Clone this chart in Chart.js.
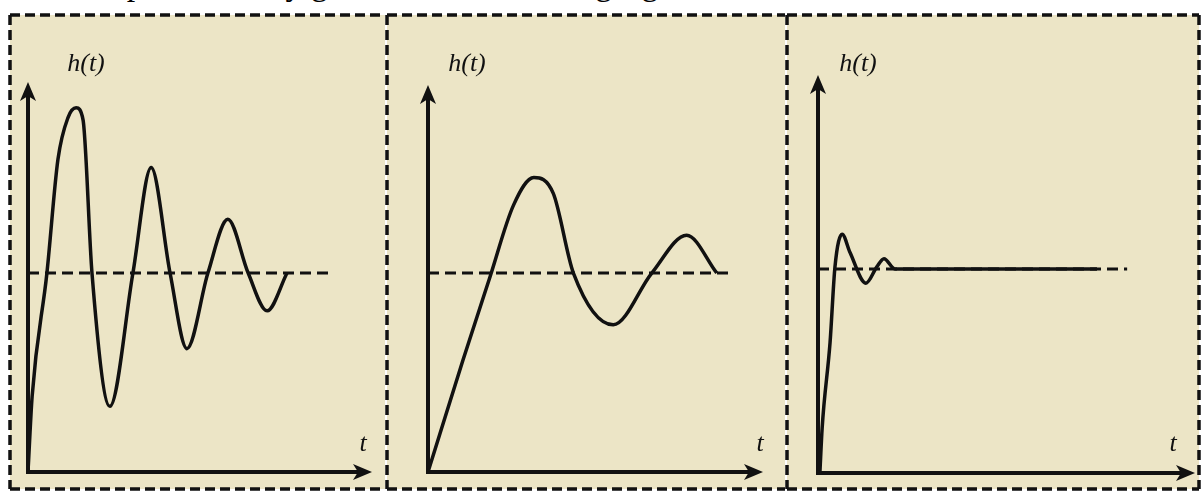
<!DOCTYPE html>
<html>
<head>
<meta charset="utf-8">
<script src="https://cdn.jsdelivr.net/npm/chart.js@4"></script>
<style>
  html, body { margin: 0; padding: 0; background: #fff; width: 1202px; height: 492px; overflow: hidden; position: relative; }
  .caption { position: absolute; left: 22px; top: -33px; font: 34px "Liberation Serif", serif; line-height: 34px; white-space: nowrap; color: #000; }
  canvas { position: absolute; top: 13px; }
</style>
</head>
<body>
<div class="caption">The output is clearly given in the following figures.</div>
<canvas id="panel1" width="377" height="478" style="left:8px"></canvas>
<canvas id="panel2" width="400" height="478" style="left:385px"></canvas>
<canvas id="panel3" width="417" height="478" style="left:785px"></canvas>
<script>
// panel 1: lightly damped, many oscillations
const t1 = [0, 0.12, 0.55, 0.87, 1.16, 1.40, 1.60, 1.86, 2.38, 3.05, 3.58, 4.13, 4.62, 5.23, 5.81, 6.40, 6.95, 7.53];
const h1 = [0, 0.38, 1.00, 1.57, 1.78, 1.83, 1.77, 1.00, 0.33, 1.00, 1.53, 1.00, 0.62, 1.00, 1.27, 1.00, 0.81, 1.00];
// panel 2: slow rise, moderate overshoot
const t2 = [0, 1.04, 1.85, 2.55, 3.16, 3.74, 4.34, 5.53, 6.68, 7.72, 8.62];
const h2 = [0, 0.56, 0.98, 1.34, 1.48, 1.40, 1.00, 0.74, 1.00, 1.19, 1.00];
// panel 3: fast rise, settles quickly
const t3 = [0.05, 0.11, 0.32, 0.45, 0.64, 0.85, 1.27, 1.56, 1.75, 2.04, 7.40];
const h3 = [0, 0.22, 0.64, 1.01, 1.17, 1.08, 0.93, 1.01, 1.05, 1.00, 1.00];

// steady-state level and where the dashed line ends in each panel
const steadyLevel = 1;
const refEnd = [8.87, 9.10, 8.20];
const tMax = [10, 10, 10];
const hMax = [1.96, 1.945, 1.95];
const yLabel = 'h(t)';
const xLabel = 't';

const INK = '#111';
const PAPER = 'rgb(236, 229, 198)';

function arrowHead(ctx, x, y, dir) {
    ctx.save();
    ctx.translate(x, y);
    if (dir === 'right') ctx.rotate(Math.PI / 2);
    ctx.beginPath();
    ctx.moveTo(0, 0);
    ctx.lineTo(8, 19);
    ctx.lineTo(0, 14);
    ctx.lineTo(-8, 19);
    ctx.closePath();
    ctx.fillStyle = INK;
    ctx.fill();
    ctx.restore();
}

const paperPlugin = {
    id: 'paper',
    beforeDraw(chart, args, opts) {
        const ctx = chart.ctx;
        const w = chart.width;
        ctx.save();
        ctx.fillStyle = PAPER;
        ctx.fillRect(2, 2, (opts.rightEdge || w) - 2, 474);
        ctx.restore();
    },
    afterDraw(chart, args, opts) {
        const ctx = chart.ctx;
        const { left, right, top, bottom } = chart.chartArea;
        ctx.save();
        // axes with arrows
        ctx.strokeStyle = INK;
        ctx.lineWidth = 4;
        ctx.beginPath();
        ctx.moveTo(left, bottom + 2);
        ctx.lineTo(left, top + 12);
        ctx.moveTo(left - 2, bottom);
        ctx.lineTo(right - 12, bottom);
        ctx.stroke();
        arrowHead(ctx, left, top, 'up');
        arrowHead(ctx, right, bottom, 'right');

        // axis labels
        ctx.fillStyle = INK;
        ctx.font = 'italic 26px "Liberation Serif", serif';
        ctx.textAlign = 'center';
        ctx.textBaseline = 'alphabetic';
        ctx.fillText(yLabel, opts.hX, 58);
        ctx.fillText(xLabel, opts.tX, 438);

        // dashed frame
        ctx.lineWidth = 3.5;
        ctx.setLineDash([10, 5]);
        const rEdge = opts.rightEdge || chart.width;
        ctx.beginPath();
        ctx.moveTo(2, 2);
        ctx.lineTo(rEdge, 2);
        ctx.moveTo(2, 476);
        ctx.lineTo(rEdge, 476);
        ctx.moveTo(2, 2);
        ctx.lineTo(2, 476);
        if (opts.rightEdge) {
            ctx.moveTo(opts.rightEdge, 2);
            ctx.lineTo(opts.rightEdge, 476);
        }
        ctx.stroke();
        ctx.restore();
    }
};

function makePanel(id, t, h, i, padding, paper) {
    const ctx = document.getElementById(id).getContext('2d');
    return new Chart(ctx, {
        type: 'line',
        data: {
            datasets: [
                {
                    label: 'steady state',
                    data: [{ x: 0, y: steadyLevel }, { x: refEnd[i], y: steadyLevel }],
                    borderColor: INK,
                    borderWidth: 3,
                    borderDash: [11, 6],
                    pointRadius: 0,
                    clip: false,
                },
                {
                    label: yLabel,
                    data: t.map((x, k) => ({ x: x, y: h[k] })),
                    borderColor: INK,
                    borderWidth: 3.5,
                    pointRadius: 0,
                    cubicInterpolationMode: 'monotone',
                    clip: false,
                },
            ],
        },
        options: {
            responsive: false,
            animation: false,
            devicePixelRatio: 1,
            layout: { padding: padding },
            scales: {
                x: { type: 'linear', min: 0, max: tMax[i], display: false },
                y: { type: 'linear', min: 0, max: hMax[i], display: false },
            },
            plugins: {
                legend: { display: false },
                tooltip: { enabled: false },
                paper: paper,
            },
        },
        plugins: [paperPlugin],
    });
}

makePanel('panel1', t1, h1, 0, { left: 20, right: 13, top: 69, bottom: 19 }, { hX: 78, tX: 355 });
makePanel('panel2', t2, h2, 1, { left: 43, right: 22, top: 72, bottom: 19 }, { hX: 82, tX: 375 });
makePanel('panel3', t3, h3, 2, { left: 33, right: 7, top: 62, bottom: 18 }, { hX: 73, tX: 388, rightEdge: 414 });
</script>
</body>
</html>
